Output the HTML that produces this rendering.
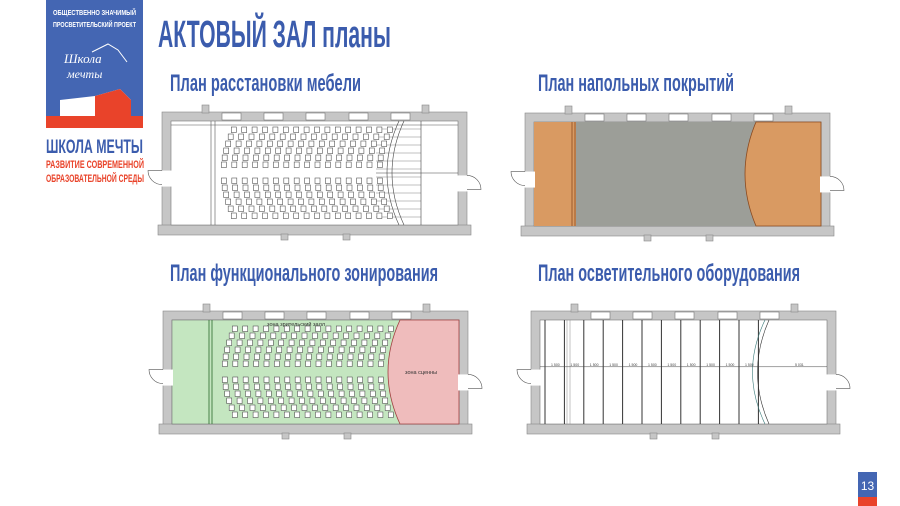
<!DOCTYPE html>
<html><head><meta charset="utf-8"><style>
html,body{margin:0;padding:0;background:#fff;}
body{width:900px;height:506px;position:relative;overflow:hidden;font-family:"Liberation Sans",sans-serif;}
</style></head><body>
<svg id="s" width="900" height="506" style="position:absolute;left:0;top:0">
<rect x="46" y="0" width="97" height="128" fill="#4466b3"/>
<rect x="46" y="116" width="97" height="12" fill="#e9432a"/>
<polygon points="60,100 95,96 120,89 131,100 131,116 60,116" fill="#fff"/>
<polygon points="95,96 120,89 131,100 131,116 95,116" fill="#e9432a"/>
<text x="53" y="15" fill="#fff" font-size="7" font-weight="bold" textLength="83" lengthAdjust="spacingAndGlyphs" font-family="Liberation Sans Narrow,Liberation Sans,sans-serif">ОБЩЕСТВЕННО ЗНАЧИМЫЙ</text>
<text x="53" y="27" fill="#fff" font-size="7" font-weight="bold" textLength="83" lengthAdjust="spacingAndGlyphs" font-family="Liberation Sans Narrow,Liberation Sans,sans-serif">ПРОСВЕТИТЕЛЬСКИЙ ПРОЕКТ</text>
<text x="64" y="63" fill="#fff" font-size="13" font-style="italic" font-family="Liberation Serif,serif">Школа</text>
<text x="67" y="78" fill="#fff" font-size="12" font-style="italic" font-family="Liberation Serif,serif">мечты</text>
<path d="M92,52 L108,44 L118,50 L127,62" stroke="#fff" fill="none" stroke-width="1"/>
<text x="46" y="153" fill="#3b5cad" font-size="19" font-weight="bold" textLength="97" lengthAdjust="spacingAndGlyphs" font-family="Liberation Sans Narrow,Liberation Sans,sans-serif">ШКОЛА МЕЧТЫ</text>
<text x="46" y="168" fill="#e9432a" font-size="11" font-weight="bold" textLength="98" lengthAdjust="spacingAndGlyphs" font-family="Liberation Sans Narrow,Liberation Sans,sans-serif">РАЗВИТИЕ СОВРЕМЕННОЙ</text>
<text x="46" y="182" fill="#e9432a" font-size="11" font-weight="bold" textLength="98" lengthAdjust="spacingAndGlyphs" font-family="Liberation Sans Narrow,Liberation Sans,sans-serif">ОБРАЗОВАТЕЛЬНОЙ СРЕДЫ</text>
<text x="158" y="47" fill="#3b5cad" font-size="38" font-weight="bold" textLength="233" lengthAdjust="spacingAndGlyphs" font-family="Liberation Sans Narrow,Liberation Sans,sans-serif">АКТОВЫЙ ЗАЛ планы</text>
<text x="170" y="91" fill="#3b5cad" font-size="24" font-weight="bold" textLength="191" lengthAdjust="spacingAndGlyphs" font-family="Liberation Sans Narrow,Liberation Sans,sans-serif">План расстановки мебели</text>
<text x="538" y="91" fill="#3b5cad" font-size="24" font-weight="bold" textLength="196" lengthAdjust="spacingAndGlyphs" font-family="Liberation Sans Narrow,Liberation Sans,sans-serif">План напольных покрытий</text>
<text x="170" y="281" fill="#3b5cad" font-size="24" font-weight="bold" textLength="268" lengthAdjust="spacingAndGlyphs" font-family="Liberation Sans Narrow,Liberation Sans,sans-serif">План функционального зонирования</text>
<text x="538" y="281" fill="#3b5cad" font-size="24" font-weight="bold" textLength="262" lengthAdjust="spacingAndGlyphs" font-family="Liberation Sans Narrow,Liberation Sans,sans-serif">План осветительного оборудования</text>
<rect x="858" y="472" width="19" height="25" fill="#4466b3"/>
<rect x="858" y="497" width="19" height="9" fill="#e9432a"/>
<text x="867.5" y="490" fill="#fff" font-size="12" text-anchor="middle" font-family="Liberation Sans Narrow,Liberation Sans,sans-serif">13</text>
<g id="plans"></g>
</svg>
<script>
var g=document.getElementById('plans'),h='';
function R(x,y,w,hh,f,st){h+='<rect x="'+x+'" y="'+y+'" width="'+w+'" height="'+hh+'" fill="'+f+'"'+(st?' stroke="'+st+'" stroke-width="0.6"':'')+'/>';}
function L(x1,y1,x2,y2,c,w){h+='<line x1="'+x1+'" y1="'+y1+'" x2="'+x2+'" y2="'+y2+'" stroke="'+c+'" stroke-width="'+(w||0.6)+'"/>';}
function P(d,f,c,w){h+='<path d="'+d+'" fill="'+(f||'none')+'" stroke="'+(c||'none')+'" stroke-width="'+(w||0.6)+'"/>';}
var W=305,H=122,T=9;
function plan(ox,oy,kind){
  var ix=ox+T,iy=oy+T,iw=W-2*T,ih=H-2*T,ir=ox+W-T,ib=oy+H-T;
  R(ox,oy,W,H,'#c6c6c6','#888');
  R(ox-4,ib,W+8,T+1,'#c6c6c6','#888');
  R(ix,iy,iw,ih,'#fff','#777');
  if(kind==2){
    R(ix,iy,42,ih,'#d99a62');
    R(ix+42,iy,iw-42,ih,'#9c9e98');
    P('M'+(ix+222)+','+iy+' Q'+(ix+200)+','+(iy+ih/2)+' '+(ix+222)+','+ib+' L'+ir+','+ib+' L'+ir+','+iy+'Z','#d99a62','#8a4a20',0.8);
    L(ix+38,iy,ix+38,ib,'#8a4a20',0.8);L(ix+41,iy,ix+41,ib,'#8a4a20',0.8);
  }
  if(kind==3){
    R(ix,iy,iw,ih,'#c4e6c0','#777');
    P('M'+(ix+228)+','+iy+' Q'+(ix+204)+','+(iy+ih/2)+' '+(ix+228)+','+ib+' L'+ir+','+ib+' L'+ir+','+iy+'Z','#efbcbc','#a04040',0.8);
    L(ix+37,iy,ix+37,ib,'#2a6a2a',0.8);L(ix+40,iy,ix+40,ib,'#2a6a2a',0.8);
  }
  [60,102,144,187,229].forEach(function(a){R(ox+a,oy+1,19,7,'#fff','#777');});
  [43,263].forEach(function(a){R(ox+a-3,oy-7,7,8,'#c6c6c6','#888');});
  [122,184].forEach(function(a){R(ox+a-3,oy+H,7,6,'#c6c6c6','#888');});
  var dy=oy+H*0.48;
  R(ox-1,dy,T+2,16,'#fff');
  P('M'+ox+','+dy+' L'+(ox-14)+','+dy+' A14,14 0 0,0 '+ox+','+(dy+14),'none','#555',0.6);
  var dy2=oy+H*0.52;
  R(ox+W-T-1,dy2,T+2,16,'#fff');
  P('M'+(ox+W)+','+dy2+' A14,14 0 0,1 '+(ox+W+14)+','+(dy2+14)+' L'+(ox+W)+','+(dy2+14),'none','#555',0.6);
  if(kind==1||kind==3){
    var x0=ix+50,ym=iy+ih/2;
    if(kind==1){L(ix+40,iy,ix+40,ib,'#555');L(ix+44,iy,ix+44,ib,'#555');L(ix,iy+4,ir,iy+4,'#555');
      P('M'+(ix+228)+','+iy+' Q'+(ix+204)+','+(ym)+' '+(ix+228)+','+ib,'none','#444',0.6);
      P('M'+(ix+233)+','+iy+' Q'+(ix+209)+','+(ym)+' '+(ix+233)+','+ib,'none','#444',0.6);
      for(var k=0;k<12;k++){var yy=iy+8+k*8;L(ix+205,yy,ix+250,yy,'#666',0.4);}
      L(ix+250,iy,ix+250,ib,'#444',0.6);L(ix+205,ym,ir,ym,'#444',0.6);}
    for(var c=0;c<16;c++){
      for(var b=0;b<2;b++){
        var ys=b==0?iy+6:ym+5;
        for(var r=0;r<6;r++){
          var y=ys+r*7,dv=(y+3-ym)/ih;
          var x=x0+c*10.4+dv*dv*60;
          R(x.toFixed(1),y,5,5.5,'#fff','#555');
        }
      }
    }
    if(kind==3){
      h+='<text x="'+(ix+95)+'" y="'+(iy+6)+'" font-size="5.5" fill="#333" font-family="Liberation Sans,sans-serif">зона зрительский залл</text>';
      h+='<text x="'+(ix+233)+'" y="'+(ym+2)+'" font-size="5.5" fill="#333" font-family="Liberation Sans,sans-serif">зона сценны</text>';
    }
  }
  if(kind==4){
    for(var i=0;i<12;i++){var x=ix+5+i*19.4;L(x,iy,x,ib,'#333',1);}
    L(ix+27,iy,ix+27,ib,'#888',0.5);L(ix+30,iy,ix+30,ib,'#888',0.5);
    P('M'+(ix+225)+','+iy+' Q'+(ix+200)+','+(iy+ih/2)+' '+(ix+225)+','+ib,'none','#3a7a7a',0.6);
    P('M'+(ix+229)+','+iy+' Q'+(ix+206)+','+(iy+ih/2)+' '+(ix+229)+','+ib,'none','#333',0.6);
    var ym=iy+ih*0.45;L(ix,ym,ir,ym,'#444',0.5);
    for(var i=0;i<11;i++){h+='<text x="'+(ix+11+i*19.4)+'" y="'+(ym-1)+'" font-size="3.5" fill="#444" font-family="Liberation Sans,sans-serif">1 500</text>';}
    h+='<text x="'+(ix+255)+'" y="'+(ym-1)+'" font-size="3.5" fill="#444" font-family="Liberation Sans,sans-serif">5 031</text>';
  }
}
plan(162,112,1);
plan(525,113,2);
plan(163,311,3);
plan(531,311,4);
g.innerHTML=h;
</script>
</body></html>
